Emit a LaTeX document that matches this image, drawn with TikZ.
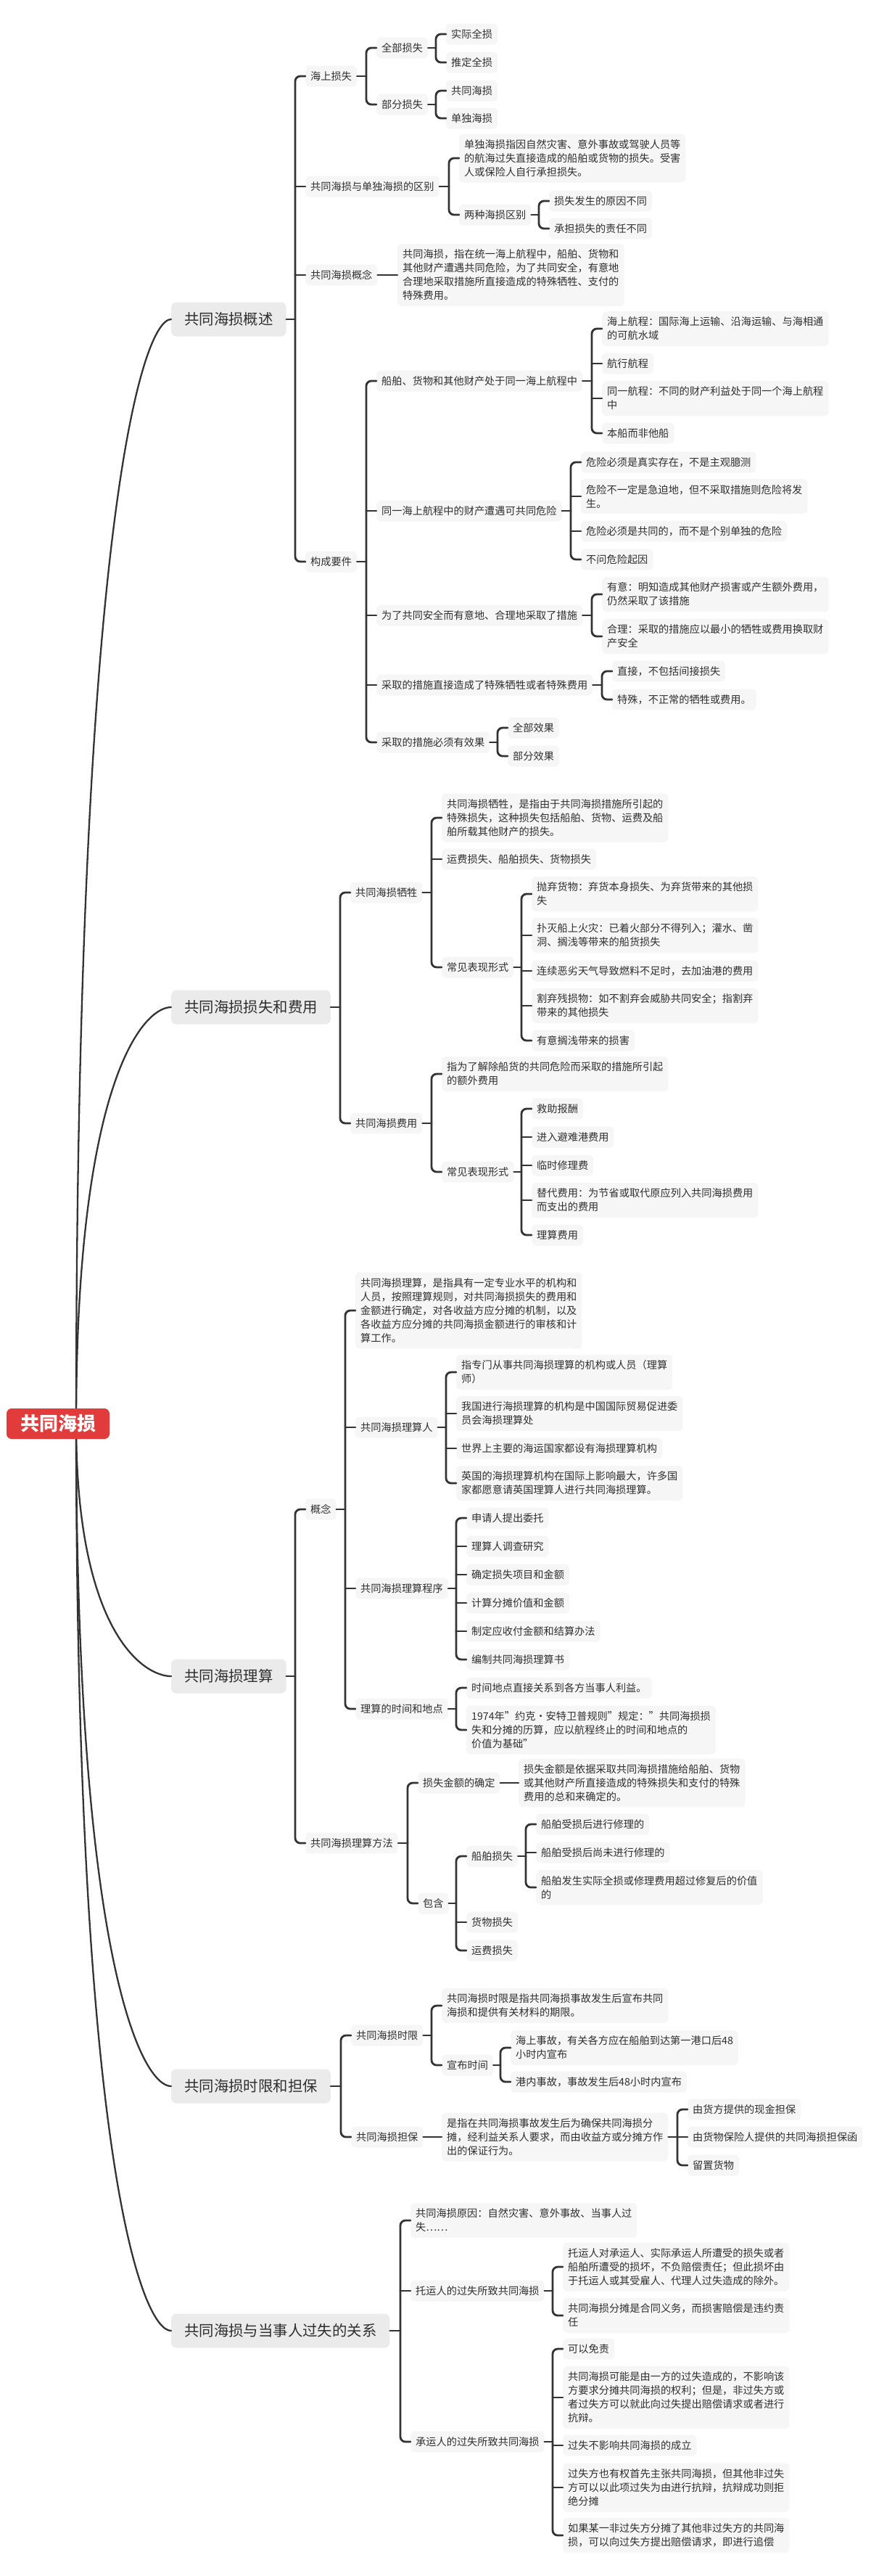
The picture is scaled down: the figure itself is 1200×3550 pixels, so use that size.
\documentclass[tikz,border=0pt]{standalone}
\usepackage{fontspec}
\setmainfont{Noto Sans CJK SC}
\usetikzlibrary{calc}
\definecolor{leaf}{HTML}{F6F6F6}
\definecolor{mainf}{HTML}{EBEBEB}
\definecolor{rootred}{HTML}{E23B3B}
\definecolor{txt}{HTML}{2F2F2F}
\definecolor{ln}{HTML}{333333}
\tikzset{
  lf/.style={anchor=west, fill=leaf, rounded corners=6pt, text=txt,
    font=\fontsize{14.2}{19}\selectfont, inner xsep=7pt, inner ysep=0pt,
    minimum height=29pt, align=left},
  nl/.style={minimum height={19pt*#1+10pt}},
  mn/.style={anchor=west, fill=mainf, rounded corners=7pt, text=txt,
    font=\fontsize{20.4}{24}\selectfont, inner xsep=18pt, inner ysep=0pt,
    minimum height=47pt},
  rt/.style={fill=rootred, text=white, rounded corners=7pt,
    font=\fontsize{26}{30}\selectfont\bfseries, inner xsep=19pt, inner ysep=0pt,
    minimum height=42pt},
  conn/.style={draw=ln, line width=2.8pt, line cap=round},
  spine/.style={draw=ln, line width=2.3pt, line cap=round}
}
\newcommand\mmBr[3]{%
  \draw[conn] (#1.east) -- ($(#1.east -| #2.west)+(-14pt,0)$);
  \draw[conn,rounded corners=7pt] (#2.west) -| ($(#3.west)+(-14pt,0)$) -- (#3.west);}
\newcommand\mmSt[1]{\draw[conn] ($(#1.west)+(-14pt,0)$) -- (#1.west);}
\newcommand\mmDi[2]{\draw[conn] (#1.east) -- (#2.west);}
\newcommand\mmSp[1]{\draw[spine] (rs) .. controls ($(rs)!0.82!(rs|-#1.west)$) and ($(#1.west)+(-39pt,0)$) .. (#1.west);}
\begin{document}
\begin{tikzpicture}[x=1pt,y=-1pt]
\fill[white] (0,0) rectangle (1200,3550);
\useasboundingbox (0,0) rectangle (1200,3550);

% ---------------- Branch 1
\node[mn] (m1) at (236,440) {共同海损概述};
\node[lf] (a1) at (421,105) {海上损失};
\node[lf] (a11) at (519,66) {全部损失};
\node[lf] (a111) at (615,47) {实际全损};
\node[lf] (a112) at (615,86) {推定全损};
\node[lf] (a12) at (519,144) {部分损失};
\node[lf] (a121) at (615,125) {共同海损};
\node[lf] (a122) at (615,163) {单独海损};
\node[lf] (a2) at (421,257) {共同海损与单独海损的区别};
\node[lf,nl=3] (a21) at (633,218) {单独海损指因自然灾害、意外事故或驾驶人员等\\的航海过失直接造成的船舶或货物的损失。受害\\人或保险人自行承担损失。};
\node[lf] (a22) at (633,296) {两种海损区别};
\node[lf] (a221) at (757,277) {损失发生的原因不同};
\node[lf] (a222) at (757,315) {承担损失的责任不同};
\node[lf] (a3) at (421,379) {共同海损概念};
\node[lf,nl=4] (a31) at (548,379) {共同海损，指在统一海上航程中，船舶、货物和\\其他财产遭遇共同危险，为了共同安全，有意地\\合理地采取措施所直接造成的特殊牺牲、支付的\\特殊费用。};
\node[lf] (a4) at (421,774) {构成要件};
\node[lf] (b1) at (519,525) {船舶、货物和其他财产处于同一海上航程中};
\node[lf,nl=2] (b11) at (830,453) {海上航程：国际海上运输、沿海运输、与海相通\\的可航水域};
\node[lf] (b12) at (830,501) {航行航程};
\node[lf,nl=2] (b13) at (830,549) {同一航程：不同的财产利益处于同一个海上航程\\中};
\node[lf] (b14) at (830,597) {本船而非他船};
\node[lf] (b2) at (519,704) {同一海上航程中的财产遭遇可共同危险};
\node[lf] (b21) at (801,637) {危险必须是真实存在，不是主观臆测};
\node[lf,nl=2] (b22) at (801,684) {危险不一定是急迫地，但不采取措施则危险将发\\生。};
\node[lf] (b23) at (801,732) {危险必须是共同的，而不是个别单独的危险};
\node[lf] (b24) at (801,771) {不问危险起因};
\node[lf] (b3) at (519,848) {为了共同安全而有意地、合理地采取了措施};
\node[lf,nl=2] (b31) at (830,819) {有意：明知造成其他财产损害或产生额外费用，\\仍然采取了该措施};
\node[lf,nl=2] (b32) at (830,877) {合理：采取的措施应以最小的牺牲或费用换取财\\产安全};
\node[lf] (b4) at (519,944) {采取的措施直接造成了特殊牺牲或者特殊费用};
\node[lf] (b41) at (844,925) {直接，不包括间接损失};
\node[lf] (b42) at (844,964) {特殊，不正常的牺牲或费用。};
\node[lf] (b5) at (519,1023) {采取的措施必须有效果};
\node[lf] (b51) at (700,1003) {全部效果};
\node[lf] (b52) at (700,1042) {部分效果};

\mmBr{m1}{a1}{a4}\mmSt{a2}\mmSt{a3}
\mmBr{a1}{a11}{a12}
\mmBr{a11}{a111}{a112}
\mmBr{a12}{a121}{a122}
\mmBr{a2}{a21}{a22}
\mmBr{a22}{a221}{a222}
\mmDi{a3}{a31}
\mmBr{a4}{b1}{b5}\mmSt{b2}\mmSt{b3}\mmSt{b4}
\mmBr{b1}{b11}{b14}\mmSt{b12}\mmSt{b13}
\mmBr{b2}{b21}{b24}\mmSt{b22}\mmSt{b23}
\mmBr{b3}{b31}{b32}
\mmBr{b4}{b41}{b42}
\mmBr{b5}{b51}{b52}

% ---------------- Branch 2
\node[mn] (m2) at (236,1388) {共同海损损失和费用};
\node[lf] (c1) at (483,1230) {共同海损牺牲};
\node[lf,nl=3] (c1a) at (609,1127) {共同海损牺牲，是指由于共同海损措施所引起的\\特殊损失，这种损失包括船舶、货物、运费及船\\舶所载其他财产的损失。};
\node[lf] (c1b) at (609,1184) {运费损失、船舶损失、货物损失};
\node[lf] (c11) at (609,1333) {常见表现形式};
\node[lf,nl=2] (c111) at (733,1232) {抛弃货物：弃货本身损失、为弃货带来的其他损\\失};
\node[lf,nl=2] (c112) at (733,1289) {扑灭船上火灾：已着火部分不得列入；灌水、凿\\洞、搁浅等带来的船货损失};
\node[lf] (c113) at (733,1338) {连续恶劣天气导致燃料不足时，去加油港的费用};
\node[lf,nl=2] (c114) at (733,1386) {割弃残损物：如不割弃会威胁共同安全；指割弃\\带来的其他损失};
\node[lf] (c115) at (733,1434) {有意搁浅带来的损害};
\node[lf] (c2) at (483,1548) {共同海损费用};
\node[lf,nl=2] (c2a) at (609,1480) {指为了解除船货的共同危险而采取的措施所引起\\的额外费用};
\node[lf] (c21) at (609,1615) {常见表现形式};
\node[lf] (c211) at (733,1528) {救助报酬};
\node[lf] (c212) at (733,1567) {进入避难港费用};
\node[lf] (c213) at (733,1606) {临时修理费};
\node[lf,nl=2] (c214) at (733,1654) {替代费用：为节省或取代原应列入共同海损费用\\而支出的费用};
\node[lf] (c215) at (733,1702) {理算费用};

\mmBr{m2}{c1}{c2}
\mmBr{c1}{c1a}{c11}\mmSt{c1b}
\mmBr{c11}{c111}{c115}\mmSt{c112}\mmSt{c113}\mmSt{c114}
\mmBr{c2}{c2a}{c21}
\mmBr{c21}{c211}{c215}\mmSt{c212}\mmSt{c213}\mmSt{c214}

% ---------------- Branch 3
\node[mn] (m3) at (236,2310) {共同海损理算};
\node[lf] (d1) at (421,2080) {概念};
\node[lf,nl=5] (d1a) at (490,1806) {共同海损理算，是指具有一定专业水平的机构和\\人员，按照理算规则，对共同海损损失的费用和\\金额进行确定，对各收益方应分摊的机制，以及\\各收益方应分摊的共同海损金额进行的审核和计\\算工作。};
\node[lf] (d11) at (490,1967) {共同海损理算人};
\node[lf,nl=2] (d111) at (629,1891) {指专门从事共同海损理算的机构或人员（理算\\师）};
\node[lf,nl=2] (d112) at (629,1948) {我国进行海损理算的机构是中国国际贸易促进委\\员会海损理算处};
\node[lf] (d113) at (629,1996) {世界上主要的海运国家都设有海损理算机构};
\node[lf,nl=2] (d114) at (629,2044) {英国的海损理算机构在国际上影响最大，许多国\\家都愿意请英国理算人进行共同海损理算。};
\node[lf] (d12) at (490,2189) {共同海损理算程序};
\node[lf] (d121) at (643,2092) {申请人提出委托};
\node[lf] (d122) at (643,2131) {理算人调查研究};
\node[lf] (d123) at (643,2170) {确定损失项目和金额};
\node[lf] (d124) at (643,2209) {计算分摊价值和金额};
\node[lf] (d125) at (643,2248) {制定应收付金额和结算办法};
\node[lf] (d126) at (643,2287) {编制共同海损理算书};
\node[lf] (d13) at (490,2355) {理算的时间和地点};
\node[lf] (d131) at (643,2326) {时间地点直接关系到各方当事人利益。};
\node[lf,nl=3] (d132) at (643,2384) {1974年"约克·安特卫普规则"规定："共同海损损\\失和分摊的历算，应以航程终止的时间和地点的\\价值为基础"};
\node[lf] (d2) at (421,2540) {共同海损理算方法};
\node[lf] (d21) at (576,2457) {损失金额的确定};
\node[lf,nl=3] (d211) at (715,2457) {损失金额是依据采取共同海损措施给船舶、货物\\或其他财产所直接造成的特殊损失和支付的特殊\\费用的总和来确定的。};
\node[lf] (d22) at (576,2623) {包含};
\node[lf] (d221) at (643,2558) {船舶损失};
\node[lf] (d2211) at (739,2514) {船舶受损后进行修理的};
\node[lf] (d2212) at (739,2553) {船舶受损后尚未进行修理的};
\node[lf,nl=2] (d2213) at (739,2601) {船舶发生实际全损或修理费用超过修复后的价值\\的};
\node[lf] (d222) at (643,2649) {货物损失};
\node[lf] (d223) at (643,2688) {运费损失};

\mmBr{m3}{d1}{d2}
\mmBr{d1}{d1a}{d13}\mmSt{d11}\mmSt{d12}
\mmBr{d11}{d111}{d114}\mmSt{d112}\mmSt{d113}
\mmBr{d12}{d121}{d126}\mmSt{d122}\mmSt{d123}\mmSt{d124}\mmSt{d125}
\mmBr{d13}{d131}{d132}
\mmBr{d2}{d21}{d22}
\mmDi{d21}{d211}
\mmBr{d22}{d221}{d223}\mmSt{d222}
\mmBr{d221}{d2211}{d2213}\mmSt{d2212}

% ---------------- Branch 4
\node[mn] (m4) at (236,2875) {共同海损时限和担保};
\node[lf] (e1) at (484,2805) {共同海损时限};
\node[lf,nl=2] (e1a) at (609,2764) {共同海损时限是指共同海损事故发生后宣布共同\\海损和提供有关材料的期限。};
\node[lf] (e12) at (609,2846) {宣布时间};
\node[lf,nl=2] (e121) at (704,2822) {海上事故，有关各方应在船舶到达第一港口后48\\小时内宣布};
\node[lf] (e122) at (704,2869) {港内事故，事故发生后48小时内宣布};
\node[lf] (e2) at (484,2945) {共同海损担保};
\node[lf,nl=3] (e2a) at (609,2945) {是指在共同海损事故发生后为确保共同海损分\\摊，经利益关系人要求，而由收益方或分摊方作\\出的保证行为。};
\node[lf] (e2a1) at (948,2907) {由货方提供的现金担保};
\node[lf] (e2a2) at (948,2945) {由货物保险人提供的共同海损担保函};
\node[lf] (e2a3) at (948,2984) {留置货物};

\mmBr{m4}{e1}{e2}
\mmBr{e1}{e1a}{e12}
\mmBr{e12}{e121}{e122}
\mmDi{e2}{e2a}
\mmBr{e2a}{e2a1}{e2a3}\mmSt{e2a2}

% ---------------- Branch 5
\node[mn] (m5) at (236,3212) {共同海损与当事人过失的关系};
\node[lf,nl=2] (f1) at (566,3060) {共同海损原因：自然灾害、意外事故、当事人过\\失……};
\node[lf] (f2) at (566,3157) {托运人的过失所致共同海损};
\node[lf,nl=3] (f21) at (776,3124) {托运人对承运人、实际承运人所遭受的损失或者\\船舶所遭受的损坏，不负赔偿责任；但此损坏由\\于托运人或其受雇人、代理人过失造成的除外。};
\node[lf,nl=2] (f22) at (776,3191) {共同海损分摊是合同义务，而损害赔偿是违约责\\任};
\node[lf] (f3) at (566,3365) {承运人的过失所致共同海损};
\node[lf] (f31) at (776,3237) {可以免责};
\node[lf,nl=4] (f32) at (776,3304) {共同海损可能是由一方的过失造成的，不影响该\\方要求分摊共同海损的权利；但是，非过失方或\\者过失方可以就此向过失提出赔偿请求或者进行\\抗辩。};
\node[lf] (f33) at (776,3370) {过失不影响共同海损的成立};
\node[lf,nl=3] (f34) at (776,3428) {过失方也有权首先主张共同海损，但其他非过失\\方可以以此项过失为由进行抗辩，抗辩成功则拒\\绝分摊};
\node[lf,nl=2] (f35) at (776,3494) {如果某一非过失方分摊了其他非过失方的共同海\\损，可以向过失方提出赔偿请求，即进行追偿};

\mmBr{m5}{f1}{f3}\mmSt{f2}
\mmBr{f2}{f21}{f22}
\mmBr{f3}{f31}{f35}\mmSt{f32}\mmSt{f33}\mmSt{f34}

% ---------------- Root and spines
\coordinate (rs) at (105,1962);
\mmSp{m1}\mmSp{m2}\mmSp{m3}\mmSp{m4}\mmSp{m5}
\node[rt] (root) at (80,1962) {共同海损};
\end{tikzpicture}
\end{document}
